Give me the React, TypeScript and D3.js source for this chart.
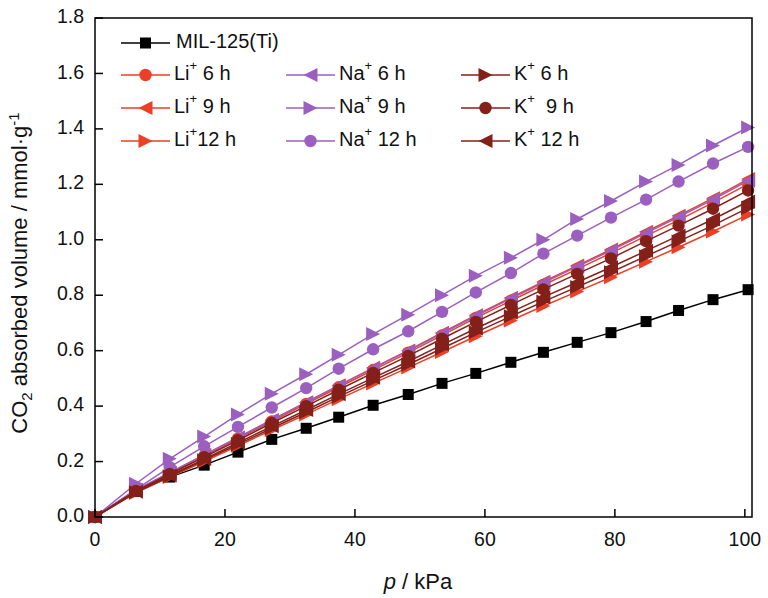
import React from 'react';
import * as d3 from 'd3';

// pressure (kPa)
const P = [0, 6.3, 11.5, 16.8, 22, 27.2, 32.5, 37.5, 42.8, 48.2, 53.4, 58.6, 64, 69, 74.2, 79.4, 84.8, 89.8, 95.1, 100.5];

const MIL = [0, 0.092, 0.144, 0.187, 0.234, 0.28, 0.32, 0.36, 0.403, 0.442, 0.482, 0.518, 0.558, 0.594, 0.63, 0.665, 0.705, 0.745, 0.784, 0.82];
const LI6 = [0, 0.096, 0.158, 0.22, 0.283, 0.345, 0.408, 0.468, 0.53, 0.593, 0.655, 0.718, 0.78, 0.837, 0.894, 0.952, 1.014, 1.071, 1.134, 1.201];
const LI9 = [0, 0.097, 0.16, 0.224, 0.287, 0.35, 0.414, 0.475, 0.538, 0.601, 0.665, 0.728, 0.791, 0.849, 0.907, 0.965, 1.029, 1.087, 1.15, 1.219];
const LI12 = [0, 0.087, 0.144, 0.2, 0.257, 0.314, 0.37, 0.425, 0.482, 0.539, 0.595, 0.652, 0.709, 0.761, 0.813, 0.865, 0.921, 0.973, 1.03, 1.091];
const NA6 = [0, 0.097, 0.16, 0.223, 0.286, 0.349, 0.412, 0.473, 0.536, 0.599, 0.662, 0.725, 0.788, 0.845, 0.903, 0.961, 1.024, 1.082, 1.145, 1.213];
const NA9 = [0, 0.12, 0.21, 0.29, 0.37, 0.445, 0.515, 0.585, 0.66, 0.73, 0.8, 0.87, 0.935, 1.0, 1.075, 1.14, 1.21, 1.27, 1.34, 1.405];
const NA12 = [0, 0.1, 0.18, 0.255, 0.325, 0.395, 0.465, 0.535, 0.605, 0.67, 0.74, 0.81, 0.88, 0.95, 1.015, 1.08, 1.145, 1.21, 1.275, 1.335];
const K6 = [0, 0.089, 0.147, 0.205, 0.262, 0.32, 0.378, 0.434, 0.492, 0.55, 0.608, 0.666, 0.724, 0.777, 0.83, 0.883, 0.941, 0.994, 1.052, 1.115];
const K9 = [0, 0.094, 0.155, 0.216, 0.277, 0.339, 0.4, 0.459, 0.52, 0.581, 0.643, 0.704, 0.765, 0.821, 0.877, 0.933, 0.995, 1.051, 1.112, 1.178];
const K12 = [0, 0.091, 0.15, 0.209, 0.268, 0.327, 0.386, 0.443, 0.502, 0.561, 0.621, 0.68, 0.739, 0.793, 0.847, 0.901, 0.96, 1.015, 1.074, 1.138];

const X_TICKS = [0, 20, 40, 60, 80, 100];
const Y_TICKS = [0, 0.2, 0.4, 0.6, 0.8, 1.0, 1.2, 1.4, 1.6, 1.8];

const BLACK = '#000000';
const LI = '#eb3f26';
const NA = '#9b5fc0';
const K = '#84201a';

type Shape = 'square' | 'circle' | 'left' | 'right';

const SERIES: { values: number[]; color: string; shape: Shape }[] = [
  { values: MIL, color: BLACK, shape: 'square' },
  { values: LI12, color: LI, shape: 'right' },
  { values: LI6, color: LI, shape: 'circle' },
  { values: LI9, color: LI, shape: 'left' },
  { values: NA6, color: NA, shape: 'left' },
  { values: NA9, color: NA, shape: 'right' },
  { values: NA12, color: NA, shape: 'circle' },
  { values: K6, color: K, shape: 'right' },
  { values: K12, color: K, shape: 'left' },
  { values: K9, color: K, shape: 'circle' },
];

// label text after the superscript "+"
const LEGEND_ROWS: { ion: string; after: string; color: string; shape: Shape }[][] = [
  [
    { ion: 'Li', after: ' 6 h', color: LI, shape: 'circle' },
    { ion: 'Na', after: ' 6 h', color: NA, shape: 'left' },
    { ion: 'K', after: ' 6 h', color: K, shape: 'right' },
  ],
  [
    { ion: 'Li', after: ' 9 h', color: LI, shape: 'left' },
    { ion: 'Na', after: ' 9 h', color: NA, shape: 'right' },
    { ion: 'K', after: '\u00a0\u00a09 h', color: K, shape: 'circle' },
  ],
  [
    { ion: 'Li', after: '12 h', color: LI, shape: 'right' },
    { ion: 'Na', after: ' 12 h', color: NA, shape: 'circle' },
    { ion: 'K', after: ' 12 h', color: K, shape: 'left' },
  ],
];

const W = 768;
const H = 598;
const M = { left: 95, right: 752, top: 18, bottom: 517 };
const FONT = 'Arial, "Liberation Sans", Helvetica, sans-serif';

const x = d3.scaleLinear().domain([0, 101.1]).range([M.left, M.right]);
const y = d3.scaleLinear().domain([0, 1.8]).range([M.bottom, M.top]);

function Marker({ cx, cy, shape, color }: { cx: number; cy: number; shape: Shape; color: string }) {
  if (shape === 'square') return <rect x={cx - 5.5} y={cy - 5.5} width={11} height={11} fill={color} />;
  if (shape === 'circle') return <circle cx={cx} cy={cy} r={6.2} fill={color} />;
  const s = 7;
  const pts =
    shape === 'right'
      ? `${cx + s},${cy} ${cx - s},${cy - s} ${cx - s},${cy + s}`
      : `${cx - s},${cy} ${cx + s},${cy - s} ${cx + s},${cy + s}`;
  return <polygon points={pts} fill={color} />;
}

export default function App() {
  const line = d3
    .line<number>()
    .x((_d, i) => x(P[i]))
    .y(d => y(d));

  const legendCols = [121, 286, 461];
  const legendRowsY = [75, 108, 141];

  return (
    <div style={{ position: 'absolute', left: 0, top: 0, background: '#fff' }}>
      <svg width={W} height={H} style={{ display: 'block', fontFamily: FONT }}>
        <rect width={W} height={H} fill="#fff" />

        {/* series */}
        {SERIES.map((s, si) => (
          <g key={si}>
            <path d={line(s.values) ?? ''} fill="none" stroke={s.color} strokeWidth={1.5} />
            {s.values.map((v, i) => (
              <Marker key={i} cx={x(P[i])} cy={y(v)} shape={s.shape} color={s.color} />
            ))}
          </g>
        ))}

        {/* frame */}
        <rect x={M.left} y={M.top} width={M.right - M.left} height={M.bottom - M.top} fill="none" stroke="#000" strokeWidth={1.5} />

        {/* x ticks */}
        {X_TICKS.map(t => (
          <g key={t}>
            <line x1={x(t)} x2={x(t)} y1={M.bottom} y2={M.bottom - 8} stroke="#000" strokeWidth={1.5} />
            <text x={x(t)} y={M.bottom + 29} textAnchor="middle" fontSize={19.5} fill="#111">
              {t}
            </text>
          </g>
        ))}

        {/* y ticks */}
        {Y_TICKS.map(t => (
          <g key={t}>
            <line x1={M.left} x2={M.left + 8} y1={y(t)} y2={y(t)} stroke="#000" strokeWidth={1.5} />
            <text x={M.left - 11} y={y(t)} textAnchor="end" dominantBaseline="middle" fontSize={19.5} fill="#111">
              {t.toFixed(1)}
            </text>
          </g>
        ))}

        {/* axis titles */}
        <text x={418} y={589} textAnchor="middle" fontSize={22} fill="#111">
          <tspan fontStyle="italic">p</tspan> / kPa
        </text>
        <text transform={`translate(27, 273) rotate(-90)`} textAnchor="middle" fontSize={22} fill="#111">
          CO<tspan fontSize={15} dy={5}>2</tspan>
          <tspan dy={-5}> absorbed volume / mmol·g</tspan>
          <tspan fontSize={15} dy={-8}>-1</tspan>
        </text>

        {/* legend */}
        <g>
          <line x1={121} x2={170} y1={43} y2={43} stroke={BLACK} strokeWidth={1.5} />
          <Marker cx={145.5} cy={43} shape="square" color={BLACK} />
          <text x={176} y={43} fontSize={20} dominantBaseline="middle" fill="#111">
            MIL-125(Ti)
          </text>
          {LEGEND_ROWS.map((row, ri) =>
            row.map((item, ci) => (
              <g key={`${ri}-${ci}`}>
                <line
                  x1={legendCols[ci]}
                  x2={legendCols[ci] + 49}
                  y1={legendRowsY[ri]}
                  y2={legendRowsY[ri]}
                  stroke={item.color}
                  strokeWidth={1.5}
                />
                <Marker cx={legendCols[ci] + 24.5} cy={legendRowsY[ri]} shape={item.shape} color={item.color} />
                <text x={legendCols[ci] + 53} y={legendRowsY[ri]} fontSize={20} dominantBaseline="middle" fill="#111" style={{ whiteSpace: 'pre' }}>
                  {item.ion}
                  <tspan fontSize={13} dy={-8}>+</tspan>
                  <tspan dy={8}>{item.after}</tspan>
                </text>
              </g>
            )),
          )}
        </g>
      </svg>
    </div>
  );
}
